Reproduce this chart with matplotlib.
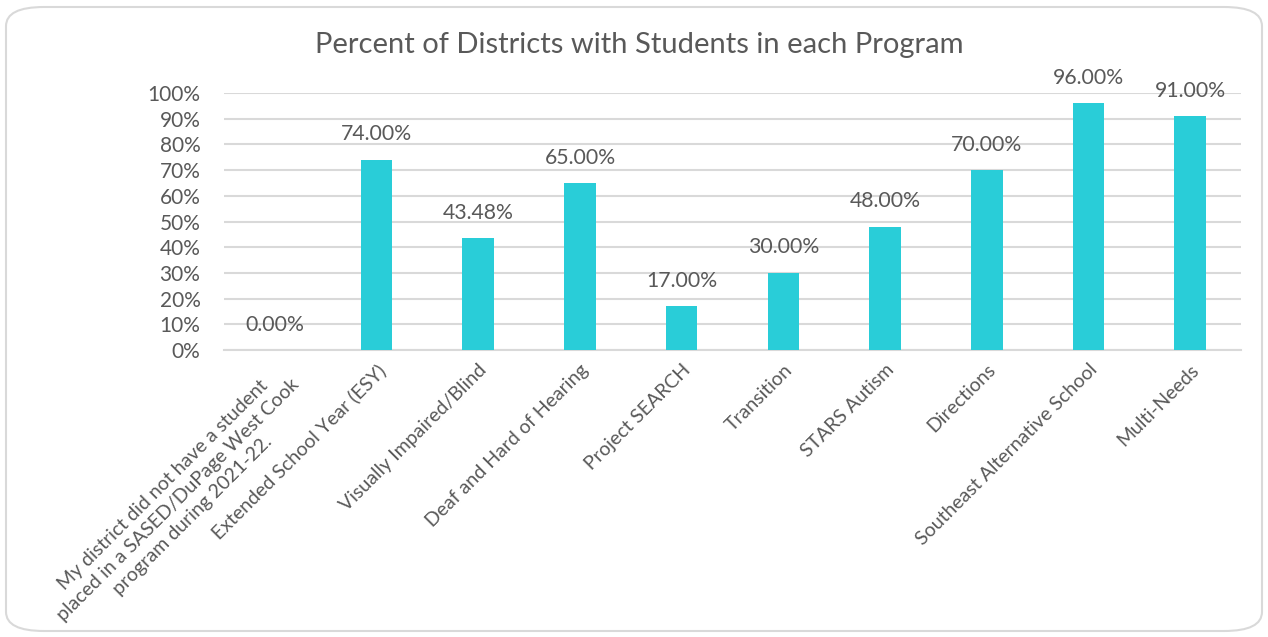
import matplotlib.pyplot as plt
from matplotlib.patches import FancyBboxPatch
from matplotlib.ticker import FuncFormatter, MultipleLocator

categories = [
    "My district did not have a student\nplaced in a SASED/DuPage West Cook\nprogram during 2021-22.",
    "Extended School Year (ESY)",
    "Visually Impaired/Blind",
    "Deaf and Hard of Hearing",
    "Project SEARCH",
    "Transition",
    "STARS Autism",
    "Directions",
    "Southeast Alternative School",
    "Multi-Needs",
]
values = [0.00, 74.00, 43.48, 65.00, 17.00, 30.00, 48.00, 70.00, 96.00, 91.00]
title = "Percent of Districts with Students in each Program"

plt.rcParams["font.family"] = ["Lato", "DejaVu Sans"]
text_color = "#595959"
bar_color = "#29CDD8"
grid_color = "#D9D9D9"

fig = plt.figure(figsize=(12.68, 6.37), dpi=100)
fig.patch.set_facecolor("white")

# rounded chart border, kept behind the axes
border = FancyBboxPatch((6 / 1268, 6 / 637), 1256 / 1268, 624 / 637,
                        boxstyle="round,pad=0,rounding_size=0.03",
                        transform=fig.transFigure, facecolor="white",
                        edgecolor="#D9D9D9", linewidth=1.5, zorder=-10)
fig.patches.append(border)

ax = fig.add_axes([224 / 1268, 1 - 350 / 637, (1241 - 224) / 1268, (350 - 93) / 637])
ax.set_facecolor("none")
ax.set_zorder(5)

x = range(len(categories))
ax.bar(x, values, width=0.31, color=bar_color, zorder=3)
for xi, v in zip(x, values):
    ax.text(xi, v + 6.0, f"{v:.2f}%", ha="center", va="bottom",
            fontsize=15.3, color=text_color, zorder=4)

ax.set_xlim(-0.5, len(categories) - 0.5)
ax.set_ylim(0, 100)
ax.yaxis.set_major_locator(MultipleLocator(10))
ax.yaxis.set_major_formatter(FuncFormatter(lambda v, p: f"{v:.0f}%"))
ax.grid(axis="y", color=grid_color, linewidth=1.5, zorder=0)
ax.set_axisbelow(True)
for s in ["top", "right", "left"]:
    ax.spines[s].set_visible(False)
ax.spines["bottom"].set_color(grid_color)
ax.spines["bottom"].set_linewidth(1.5)
ax.tick_params(axis="y", length=0, labelsize=15, labelcolor=text_color, pad=17)
ax.tick_params(axis="x", length=0, labelsize=14, labelcolor=text_color, pad=8)
ax.set_xticks(list(x))
ax.set_xticklabels(categories, rotation=45, ha="right", va="top",
                   rotation_mode="anchor", multialignment="center",
                   linespacing=1.3)

fig.text(639 / 1268, 1 - 45 / 637, title, ha="center", va="center",
         fontsize=21, color=text_color)

fig.savefig("out.png", dpi=100, facecolor="white")
